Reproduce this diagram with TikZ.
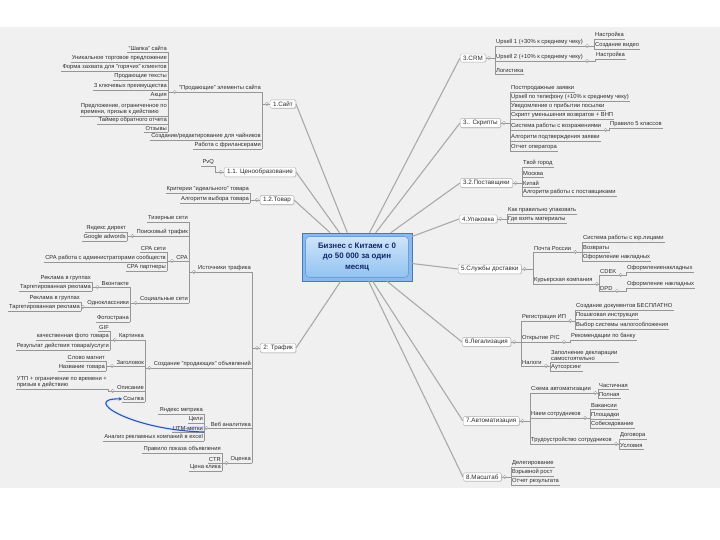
\documentclass[tikz,border=0pt]{standalone}
\usepackage{fontspec}
\setmainfont{Liberation Sans}
\usetikzlibrary{arrows.meta,shadows,backgrounds}
\definecolor{bgc}{RGB}{240,240,240}
\definecolor{linec}{RGB}{150,150,150}
\definecolor{txt}{RGB}{45,45,45}
\definecolor{mainc}{RGB}{170,170,170}
\definecolor{relc}{RGB}{40,90,170}
\definecolor{cbord}{RGB}{70,120,190}
\definecolor{cfill}{RGB}{140,185,235}
\definecolor{ctop}{RGB}{212,231,250}
\definecolor{cbot}{RGB}{140,192,240}
\definecolor{cinner}{RGB}{105,160,220}
\definecolor{ctext}{RGB}{20,40,105}
\tikzset{
 sub/.style={font=\fontsize{5.8}{6.4}\selectfont, text=txt, inner xsep=1pt, inner ysep=0.8pt, align=left,
   append after command={(\tikzlastnode.south west) edge[draw=linec, line width=0.5pt] (\tikzlastnode.south east)}},
 lt/.style={sub, anchor=south east},
 rt/.style={sub, anchor=south west},
 topic/.style={draw=gray!65, fill=white, rounded corners=1.5pt, font=\fontsize{6.3}{7}\selectfont, text=txt,
   inner xsep=3pt, inner ysep=1.8pt, drop shadow={shadow xshift=0.6pt, shadow yshift=-0.6pt, opacity=0.3}},
 conn/.style={draw=linec, line width=0.5pt},
 mainline/.style={draw=mainc, line width=1.1pt},
 centerbox/.style={rectangle, draw=cbord, fill=cfill, line width=0.6pt, minimum width=110pt, minimum height=48pt,
   align=center, font=\bfseries\fontsize{7.9}{10.3}\selectfont, text=ctext,
   path picture={\shade[top color=ctop, bottom color=cbot, draw=cinner, rounded corners=4pt]
     ([shift={(3.5pt,-3.5pt)}]path picture bounding box.north west) rectangle
     ([shift={(-3.5pt,3.5pt)}]path picture bounding box.south east);}},
 rel/.style={draw=relc, line width=1.1pt, -{Stealth[length=3.5pt,width=3.5pt]}},
 fold/.pic={\filldraw[fill=white, draw=gray!75, line width=0.4pt] (0,0) circle (1.7pt);
   \draw[gray!75, line width=0.4pt] (-0.9pt,0) -- (0.9pt,0);}
}
\begin{document}
\begin{tikzpicture}[x=1pt,y=-1pt]
\useasboundingbox (0,0) rectangle (720,540);

% center
\node[centerbox] (C) at (357,257) {Бизнес с Китаем с 0\\до 50 000 за один\\месяц};

% main topics
\node[topic, anchor=east] (T1) at (296,104) {1.Сайт};
\node[topic, anchor=east] (T11) at (296,172) {1.1. Ценообразование};
\node[topic, anchor=east] (T12) at (294,200) {1.2.Товар};
\node[topic, anchor=east] (T2) at (296,348) {2: Трафик};
\node[topic, anchor=west] (T3) at (460,58) {3.CRM};
\node[topic, anchor=west] (T3s) at (460,123) {3.. Скрипты};
\node[topic, anchor=west] (T32) at (460,183) {3.2.Поставщики};
\node[topic, anchor=west] (T4) at (459,219) {4.Упаковка};
\node[topic, anchor=west] (T5) at (458,269) {5.Службы доставки};
\node[topic, anchor=west] (T6) at (462,342) {6.Легализация};
\node[topic, anchor=west] (T7) at (463,421) {7.Автоматизация};
\node[topic, anchor=west] (T8) at (463,477) {8.Масштаб};

\foreach \t in {T1,T11,T12,T2} \draw[mainline] (\t.east) -- (C);
\foreach \t in {T3,T3s,T32,T4,T5,T6,T7,T8} \draw[mainline] (\t.west) -- (C);

% ---------- 1.Сайт
\node[lt] (a1) at (262,92) {"Продающие" элементы сайта};
\node[lt] (a2) at (262,140) {Создание/редактирование для чайников};
\node[lt] (a3) at (262,149) {Работа с фрилансерами};
\foreach \c in {a1,a2,a3} \draw[conn] (T1.west) -| (\c.south east);
\node[lt] (a11) at (168,52) {"Шапка" сайта};
\node[lt] (a12) at (168,62) {Уникальное торговое предложение};
\node[lt] (a13) at (168,71) {Форма захвата для "горячих" клиентов};
\node[lt] (a14) at (168,80) {Продающие тексты};
\node[lt] (a15) at (168,90) {3 ключевых преимущества};
\node[lt] (a16) at (168,99) {Акция};
\node[lt] (a17) at (168,116) {Предложение, ограниченное по\\времени, призыв к действию};
\node[lt] (a18) at (168,124) {Таймер обратного отчета};
\node[lt] (a19) at (168,132) {Отзывы};
\foreach \c in {a11,a12,a13,a14,a15,a16,a17,a18,a19} \draw[conn] (a1.south west) -| (\c.south east);

% ---------- 1.1
\node[lt] (b1) at (215,166) {PvQ};
\draw[conn] (T11.west) -| (b1.south east);

% ---------- 1.2
\node[lt] (c1) at (250,193) {Критерии "идеального" товара};
\node[lt] (c2) at (250,203) {Алгоритм выбора товара};
\foreach \c in {c1,c2} \draw[conn] (T12.west) -| (\c.south east);

% ---------- 2: Трафик
\node[lt] (d1) at (252,272) {Источники трафика};
\node[lt] (d2) at (252,368) {Создание "продающих" объявлений};
\node[lt] (d3) at (252,428) {Веб аналитика};
\node[lt] (d4) at (252,463) {Оценка};
\foreach \c in {d1,d2,d3,d4} \draw[conn] (T2.west) -| (\c.south east);

\node[lt] (d11) at (189,222) {Тизерные сети};
\node[lt] (d12) at (189,236) {Поисковый трафик};
\node[lt] (d13) at (189,261) {CPA};
\node[lt] (d14) at (189,303) {Социальные сети};
\foreach \c in {d11,d12,d13,d14} \draw[conn] (d1.south west) -| (\c.south east);

\node[lt] (d121) at (127,232) {Яндекс директ};
\node[lt] (d122) at (127,241) {Google adwords};
\foreach \c in {d121,d122} \draw[conn] (d12.south west) -| (\c.south east);

\node[lt] (d131) at (167,252) {CPA сети};
\node[lt] (d132) at (167,262) {CPA работа с администраторами сообществ};
\node[lt] (d133) at (167,271) {CPA партнеры};
\foreach \c in {d131,d132,d133} \draw[conn] (d13.south west) -| (\c.south east);

\node[lt] (d141) at (130,287) {Вконтакте};
\node[lt] (d142) at (130,307) {Одноклассники};
\node[lt] (d143) at (130,322) {Фотострана};
\foreach \c in {d141,d142,d143} \draw[conn] (d14.south west) -| (\c.south east);

\node[lt] (d1411) at (92,282) {Реклама в группах};
\node[lt] (d1412) at (92,291) {Таргетированная реклама};
\foreach \c in {d1411,d1412} \draw[conn] (d141.south west) -| (\c.south east);
\node[lt] (d1421) at (81,302) {Реклама в группах};
\node[lt] (d1422) at (81,311) {Таргетированная реклама};
\foreach \c in {d1421,d1422} \draw[conn] (d142.south west) -| (\c.south east);

\node[lt] (d21) at (145,340) {Картинка};
\node[lt] (d22) at (145,366) {Заголовок};
\node[lt] (d23) at (145,391) {Описание};
\node[lt] (d24) at (145,402) {Ссылка};
\foreach \c in {d21,d22,d23,d24} \draw[conn] (d2.south west) -| (\c.south east);

\node[lt] (d211) at (110,331) {GIF};
\node[lt] (d212) at (110,340) {качественная фото товара};
\node[lt] (d213) at (110,350) {Результат действия товара/услуги};
\foreach \c in {d211,d212,d213} \draw[conn] (d21.south west) -| (\c.south east);
\node[lt] (d221) at (106,361) {Слово магнит};
\node[lt] (d222) at (106,371) {Название товара};
\foreach \c in {d221,d222} \draw[conn] (d22.south west) -| (\c.south east);
\node[lt] (d231) at (108,389) {УТП + ограничение по времени +\\призыв к действию};
\draw[conn] (d23.south west) -| (d231.south east);

\node[lt] (d31) at (204,414) {Яндекс метрика};
\node[lt] (d32) at (204,423) {Цели};
\node[lt] (d33) at (204,432) {UTM-метки};
\node[lt] (d34) at (204,441) {Анализ рекламных компаний в excel};
\foreach \c in {d31,d32,d33,d34} \draw[conn] (d3.south west) -| (\c.south east);

\node[lt] (d41) at (222,453) {Правило показа объявления};
\node[lt] (d42) at (222,463) {CTR};
\node[lt] (d43) at (222,471) {Цена клика};
\foreach \c in {d41,d42,d43} \draw[conn] (d4.south west) -| (\c.south east);

\draw[rel] (d33.south east) .. controls (130,430) and (80,398) .. (d24.west);

% ---------- 3.CRM
\node[rt] (e1) at (495,46) {Upsell 1 (+30\% к среднему чеку)};
\node[rt] (e2) at (495,61) {Upsell 2 (+10\% к среднему чеку)};
\node[rt] (e3) at (495,74) {Логистика};
\foreach \c in {e1,e2,e3} \draw[conn] (T3.east) -| (\c.south west);
\node[rt] (e11) at (594,39) {Настройка};
\node[rt] (e12) at (594,49) {Создание видео};
\foreach \c in {e11,e12} \draw[conn] (e1.south east) -| (\c.south west);
\node[rt] (e21) at (595,59) {Настройка};
\draw[conn] (e2.south east) -| (e21.south west);

% ---------- 3.. Скрипты
\node[rt] (f1) at (510,92) {Постпродажные заявки};
\node[rt] (f2) at (510,101) {Upsell по телефону (+10\% к среднему чеку)};
\node[rt] (f3) at (510,110) {Уведомление о прибытии посылки};
\node[rt] (f4) at (510,119) {Скрипт уменьшения возвратов + ВНП};
\node[rt] (f5) at (510,130) {Система работы с возражениями};
\node[rt] (f6) at (510,141) {Алгоритм подтверждения заявки};
\node[rt] (f7) at (510,151) {Отчет оператора};
\foreach \c in {f1,f2,f3,f4,f5,f6,f7} \draw[conn] (T3s.east) -| (\c.south west);
\node[rt] (f51) at (609,128) {Правило 5 классов};
\draw[conn] (f5.south east) -| (f51.south west);

% ---------- 3.2 Поставщики
\node[rt] (g1) at (522,167) {Твой город};
\node[rt] (g2) at (522,177) {Москва};
\node[rt] (g3) at (522,187) {Китай};
\node[rt] (g4) at (522,196) {Алгоритм работы с поставщиками};
\foreach \c in {g1,g2,g3,g4} \draw[conn] (T32.east) -| (\c.south west);

% ---------- 4.Упаковка
\node[rt] (h1) at (507,214) {Как правильно упаковать};
\node[rt] (h2) at (507,223) {Где взять материалы};
\foreach \c in {h1,h2} \draw[conn] (T4.east) -| (\c.south west);

% ---------- 5.Службы доставки
\node[rt] (i1) at (533,252) {Почта России};
\node[rt] (i2) at (533,284) {Курьерская компания};
\foreach \c in {i1,i2} \draw[conn] (T5.east) -| (\c.south west);
\node[rt] (i11) at (582,242) {Система работы с юр.лицами};
\node[rt] (i12) at (582,252) {Возвраты};
\node[rt] (i13) at (582,261) {Оформление накладных};
\foreach \c in {i11,i12,i13} \draw[conn] (i1.south east) -| (\c.south west);
\node[rt] (i21) at (599,275) {CDEK};
\node[rt] (i22) at (599,291) {DPD};
\foreach \c in {i21,i22} \draw[conn] (i2.south east) -| (\c.south west);
\node[rt] (i211) at (626,272) {Оформлениенакладных};
\draw[conn] (i21.south east) -| (i211.south west);
\node[rt] (i221) at (626,288) {Оформление накладных};
\draw[conn] (i22.south east) -| (i221.south west);

% ---------- 6.Легализация
\node[rt] (j1) at (521,321) {Регистрация ИП};
\node[rt] (j2) at (521,342) {Открытие Р/С};
\node[rt] (j3) at (521,366) {Налоги};
\foreach \c in {j1,j2,j3} \draw[conn] (T6.east) -| (\c.south west);
\node[rt] (j11) at (575,310) {Создание документов БЕСПЛАТНО};
\node[rt] (j12) at (575,319) {Пошаговая инструкция};
\node[rt] (j13) at (575,329) {Выбор системы налогообложения};
\foreach \c in {j11,j12,j13} \draw[conn] (j1.south east) -| (\c.south west);
\node[rt] (j21) at (570,340) {Рекомендации по банку};
\draw[conn] (j2.south east) -| (j21.south west);
\node[rt] (j31) at (550,362) {Заполнение декларации\\самостоятельно};
\node[rt] (j32) at (550,371) {Аутсорсинг};
\foreach \c in {j31,j32} \draw[conn] (j3.south east) -| (\c.south west);

% ---------- 7.Автоматизация
\node[rt] (k1) at (530,393) {Схема автоматизации};
\node[rt] (k2) at (530,418) {Наем сотрудников};
\node[rt] (k3) at (530,444) {Трудоустройство сотрудников};
\foreach \c in {k1,k2,k3} \draw[conn] (T7.east) -| (\c.south west);
\node[rt] (k11) at (598,389) {Частичная};
\node[rt] (k12) at (598,398) {Полная};
\foreach \c in {k11,k12} \draw[conn] (k1.south east) -| (\c.south west);
\node[rt] (k21) at (590,409) {Вакансии};
\node[rt] (k22) at (590,419) {Площадки};
\node[rt] (k23) at (590,428) {Собеседование};
\foreach \c in {k21,k22,k23} \draw[conn] (k2.south east) -| (\c.south west);
\node[rt] (k31) at (619,439) {Договора};
\node[rt] (k32) at (619,449) {Условия};
\foreach \c in {k31,k32} \draw[conn] (k3.south east) -| (\c.south west);

% ---------- 8.Масштаб
\node[rt] (l1) at (511,467) {Делегирование};
\node[rt] (l2) at (511,476) {Взрывной рост};
\node[rt] (l3) at (511,485) {Отчет результата};
\foreach \c in {l1,l2,l3} \draw[conn] (T8.east) -| (\c.south west);

% fold markers
\foreach \p in {T1,T11,T12,T2} \pic at ([xshift=-3pt]\p.west) {fold};
\foreach \p in {a1,d1,d12,d13,d14,d141,d142,d2,d21,d22,d23,d3,d4} \pic at ([xshift=-3.2pt]\p.south west) {fold};
\foreach \p in {T3,T3s,T32,T4,T5,T6,T7,T8} \pic at ([xshift=3pt]\p.east) {fold};
\foreach \p in {e1,e2,f5,i1,i2,i21,i22,j1,j2,j3,k1,k2,k3} \pic at ([xshift=3.2pt]\p.south east) {fold};

\begin{pgfonlayer}{background}
\fill[white] (0,0) rectangle (720,540);
\fill[bgc] (0,27) rectangle (720,488);
\fill[blue!12] (d33.south west) rectangle (d33.north east);
\draw[draw=blue!10, line width=3pt] (d33.south east) .. controls (130,430) and (80,398) .. (d24.west);
\end{pgfonlayer}
\end{tikzpicture}
\end{document}
